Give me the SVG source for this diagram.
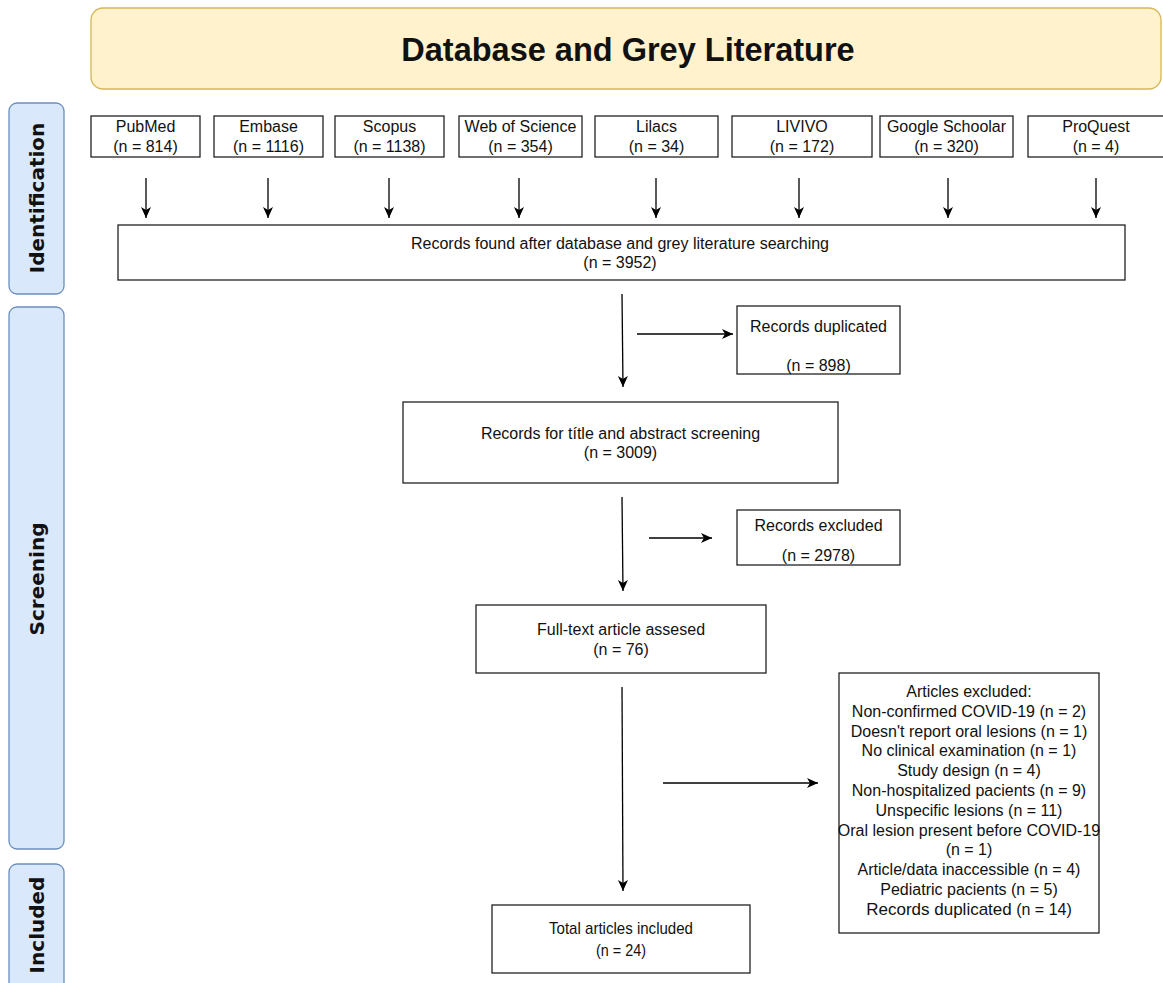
<svg xmlns="http://www.w3.org/2000/svg" width="1163" height="983" viewBox="0 0 1163 983">
<defs>
<marker id="arr" markerUnits="userSpaceOnUse" markerWidth="13" markerHeight="11" refX="11" refY="5" orient="auto">
<path d="M0,0 L11,5 L0,10 L3,5 z" fill="#000"/>
</marker>
<style>
.box{fill:#fff;stroke:#222;stroke-width:1.3}
.t{font-family:"Liberation Sans",Arial,sans-serif;font-size:16px;fill:#111;text-anchor:middle}
.lane{fill:#dae8fc;stroke:#6c8ebf;stroke-width:1.3}
.lt{font-family:"DejaVu Sans",Verdana,sans-serif;font-size:20px;font-weight:bold;fill:#111;text-anchor:middle}
.c line{stroke:#000;stroke-width:1.3;marker-end:url(#arr)}
</style>
</defs>
<rect width="1163" height="983" fill="#fff"/>

<g id="title">
<rect x="91" y="8" width="1070" height="81" rx="12" fill="#fff2cc" stroke="#d6b656" stroke-width="1.3"/>
<text x="628" y="61" style="font-family:'Liberation Sans',Arial,sans-serif;font-size:32.5px;font-weight:bold;fill:#111;text-anchor:middle">Database and Grey Literature</text>
</g>

<g id="lane-identification">
<rect class="lane" x="9" y="103" width="55" height="191" rx="8"/>
<text class="lt" transform="translate(44,198) rotate(-90)">Identification</text>
</g>
<g id="lane-screening">
<rect class="lane" x="9" y="307" width="55" height="542" rx="8"/>
<text class="lt" transform="translate(44,579) rotate(-90)">Screening</text>
</g>
<g id="lane-included">
<rect class="lane" x="9" y="864" width="55" height="130" rx="8"/>
<text class="lt" transform="translate(44,925) rotate(-90)">Included</text>
</g>

<g id="pubmed"><rect class="box" x="91" y="116" width="109" height="41"/>
<text class="t" x="145.5" y="132">PubMed</text><text class="t" x="145.5" y="152">(n = 814)</text></g>
<g id="embase"><rect class="box" x="214" y="116" width="109" height="41"/>
<text class="t" x="268.5" y="132">Embase</text><text class="t" x="268.5" y="152">(n = 1116)</text></g>
<g id="scopus"><rect class="box" x="335" y="116" width="109" height="41"/>
<text class="t" x="389.5" y="132">Scopus</text><text class="t" x="389.5" y="152">(n = 1138)</text></g>
<g id="wos"><rect class="box" x="459" y="116" width="123" height="41"/>
<text class="t" x="520.5" y="132">Web of Science</text><text class="t" x="520.5" y="152">(n = 354)</text></g>
<g id="lilacs"><rect class="box" x="595" y="116" width="123" height="41"/>
<text class="t" x="656.5" y="132">Lilacs</text><text class="t" x="656.5" y="152">(n = 34)</text></g>
<g id="livivo"><rect class="box" x="732" y="116" width="140" height="41"/>
<text class="t" x="802" y="132">LIVIVO</text><text class="t" x="802" y="152">(n = 172)</text></g>
<g id="google"><rect class="box" x="880" y="116" width="133" height="41"/>
<text class="t" x="946.5" y="132">Google Schoolar</text><text class="t" x="946.5" y="152">(n = 320)</text></g>
<g id="proquest"><rect class="box" x="1028" y="116" width="140" height="41"/>
<text class="t" x="1096" y="132">ProQuest</text><text class="t" x="1096" y="152">(n = 4)</text></g>

<g id="records-found"><rect class="box" x="118" y="225" width="1007" height="55"/>
<text class="t" x="620" y="248.5">Records found after database and grey literature searching</text>
<text class="t" x="620" y="268">(n = 3952)</text></g>

<g id="records-duplicated"><rect class="box" x="737" y="306" width="163" height="68"/>
<text class="t" x="818.5" y="332">Records duplicated</text>
<text class="t" x="818.5" y="371">(n = 898)</text></g>

<g id="records-screening"><rect class="box" x="403" y="402" width="435" height="81"/>
<text class="t" x="620.5" y="438.5">Records for títle and abstract screening</text>
<text class="t" x="620.5" y="458">(n = 3009)</text></g>

<g id="records-excluded"><rect class="box" x="737" y="510" width="163" height="55"/>
<text class="t" x="818.5" y="530.5">Records excluded</text>
<text class="t" x="818.5" y="561">(n = 2978)</text></g>

<g id="full-text"><rect class="box" x="476" y="605" width="290" height="68"/>
<text class="t" x="621" y="635">Full-text article assesed</text>
<text class="t" x="621" y="654.5">(n = 76)</text></g>

<g id="articles-excluded"><rect class="box" x="839" y="673" width="260" height="260"/>
<text class="t" x="969" y="697">Articles excluded:</text>
<text class="t" x="969" y="716.8">Non-confirmed COVID-19 (n = 2)</text>
<text class="t" x="969" y="736.6">Doesn't report oral lesions (n = 1)</text>
<text class="t" x="969" y="756.4">No clinical examination (n = 1)</text>
<text class="t" x="969" y="776.2">Study design (n = 4)</text>
<text class="t" x="969" y="796">Non-hospitalized pacients (n = 9)</text>
<text class="t" x="969" y="815.8">Unspecific lesions (n = 11)</text>
<text class="t" x="969" y="835.6">Oral lesion present before COVID-19</text>
<text class="t" x="969" y="855.4">(n = 1)</text>
<text class="t" x="969" y="875.2">Article/data inaccessible (n = 4)</text>
<text class="t" x="969" y="895">Pediatric pacients (n = 5)</text>
<text class="t" x="969" y="914.8"><tspan style="font-size:17px">Records duplicated</tspan> (n = 14)</text>
</g>

<g id="total-included"><rect class="box" x="492" y="905" width="258" height="68"/>
<text class="t" x="621" y="934" style="font-size:17px" textLength="144" lengthAdjust="spacingAndGlyphs">Total articles included</text>
<text class="t" x="621" y="956" style="font-size:17px" textLength="50" lengthAdjust="spacingAndGlyphs">(n = 24)</text></g>

<g id="connectors" class="c">
<line x1="146" y1="178" x2="146" y2="218"/>
<line x1="268" y1="178" x2="268" y2="218"/>
<line x1="389" y1="178" x2="389" y2="218"/>
<line x1="519" y1="178" x2="519" y2="218"/>
<line x1="656" y1="178" x2="656" y2="218"/>
<line x1="799" y1="178" x2="799" y2="218"/>
<line x1="948" y1="178" x2="948" y2="218"/>
<line x1="1096" y1="178" x2="1096" y2="218"/>
<line x1="622" y1="294" x2="623" y2="387"/>
<line x1="637" y1="334" x2="733" y2="334"/>
<line x1="622" y1="497" x2="623" y2="591"/>
<line x1="649" y1="538" x2="712" y2="538"/>
<line x1="622" y1="687" x2="623" y2="891"/>
<line x1="663" y1="783" x2="818" y2="783"/>
</g>
</svg>
